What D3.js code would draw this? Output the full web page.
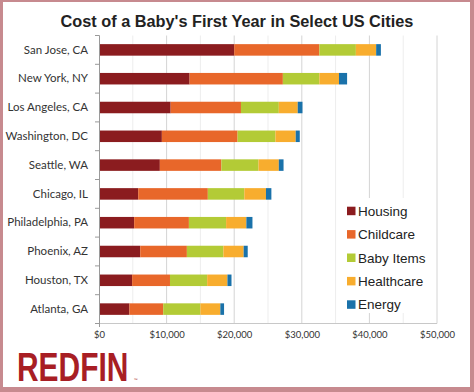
<!DOCTYPE html>
<html>
<head>
<meta charset="utf-8">
<script src="https://cdn.jsdelivr.net/npm/d3@7"></script>
<style>
  body { margin: 0; background: #fff; }
  svg { display: block; }
</style>
</head>
<body>
<svg id="chart" width="474" height="392"></svg>
<script>
const cities = ["San Jose, CA","New York, NY","Los Angeles, CA","Washington, DC","Seattle, WA","Chicago, IL","Philadelphia, PA","Phoenix, AZ","Houston, TX","Atlanta, GA"];
const seriesNames = ["Housing","Childcare","Baby Items","Healthcare","Energy"];
const housing    = [20000, 13400, 10600, 9300, 9000, 5800, 5200, 6100, 4900, 4500];
const childcare  = [12600, 13800, 10400, 11200, 9100, 10300, 8100, 6900, 5600, 5000];
const babyItems  = [5400, 5400, 5600, 5600, 5500, 5400, 5500, 5400, 5500, 5500];
const healthcare = [3000, 2900, 2800, 3000, 3000, 3200, 3000, 3000, 3000, 2950];
const energy     = [700, 1200, 700, 600, 700, 800, 900, 600, 600, 550];
const xTicks = [0, 10000, 20000, 30000, 40000, 50000];
const xMinorTicks = [5000, 15000, 25000, 35000, 45000];
const colors = ["#8b1c1f", "#e8672a", "#b3cb36", "#f8ad2e", "#1a72aa"];

const seriesValues = [housing, childcare, babyItems, healthcare, energy];
const rows = cities.map((c, i) => {
  const r = { city: c };
  seriesNames.forEach((s, j) => r[s] = seriesValues[j][i]);
  return r;
});

const svg = d3.select("#chart");

// frame
svg.append("rect").attr("x", 0).attr("y", 0).attr("width", 474).attr("height", 392).attr("fill", "#c78a8f");
svg.append("rect").attr("x", 3).attr("y", 2).attr("width", 467).attr("height", 385).attr("fill", "#ffffff");

const x = d3.scaleLinear().domain([0, 50000]).range([99, 437]);
const y = d3.scaleBand().domain(cities).range([35.5, 323.5]).paddingInner(0.6).paddingOuter(0.3);

// title
svg.append("text")
  .attr("x", 237).attr("y", 27)
  .attr("text-anchor", "middle")
  .style("font-family", "'Liberation Sans', Arial, sans-serif")
  .style("font-weight", "bold")
  .style("font-size", "16.3px")
  .attr("fill", "#222")
  .text("Cost of a Baby's First Year in Select US Cities");

// gridlines
svg.append("g").selectAll("line").data(xMinorTicks).join("line")
  .attr("x1", d => x(d)).attr("x2", d => x(d))
  .attr("y1", 35.5).attr("y2", 323.5)
  .attr("stroke", "#ededed").attr("stroke-width", 1);
svg.append("g").selectAll("line").data(xTicks.filter(d => d > 0)).join("line")
  .attr("x1", d => x(d)).attr("x2", d => x(d))
  .attr("y1", 35.5).attr("y2", 323.5)
  .attr("stroke", "#d4d4d4").attr("stroke-width", 1);

// bottom axis line
svg.append("line").attr("x1", x(0)).attr("x2", x(50000))
  .attr("y1", 323.5).attr("y2", 323.5).attr("stroke", "#c8c8c8");

// stacked bars
const stack = d3.stack().keys(seriesNames)(rows);
svg.append("g").selectAll("g").data(stack).join("g")
  .attr("fill", (d, i) => colors[i])
  .selectAll("rect").data(d => d).join("rect")
  .attr("x", d => x(d[0]))
  .attr("width", d => x(d[1]) - x(d[0]))
  .attr("y", d => y(d.data.city))
  .attr("height", y.bandwidth());

// left axis
const yAxis = d3.axisLeft(y).tickSize(0).tickPadding(11);
const gy = svg.append("g").attr("transform", `translate(${x(0)},0)`).call(yAxis);
gy.select(".domain").remove();
gy.selectAll("text")
  .style("font-family", "Lato, 'Open Sans', sans-serif")
  .style("font-size", "11.5px")
  .attr("fill", "#333");
svg.append("line").attr("x1", x(0) + 0.5).attr("x2", x(0) + 0.5)
  .attr("y1", 35.5).attr("y2", 327).attr("stroke", "#9a9a9a");
const boundaries = d3.range(cities.length + 1).map(i => y.range()[0] + i * y.step());
svg.append("g").selectAll("line").data(boundaries).join("line")
  .attr("x1", x(0) - 4).attr("x2", x(0) + 0.5)
  .attr("y1", d => d).attr("y2", d => d)
  .attr("stroke", "#9a9a9a");

// bottom axis labels
const xAxis = d3.axisBottom(x).tickValues(xTicks).tickFormat(d3.format("$,")).tickSize(0).tickPadding(8);
const gx = svg.append("g").attr("transform", "translate(0,323.5)").call(xAxis);
gx.select(".domain").remove();
gx.selectAll("text")
  .style("font-family", "Lato, 'Open Sans', sans-serif")
  .style("font-size", "9.5px")
  .attr("fill", "#333");

// legend
const lg = svg.append("g");
lg.append("rect").attr("x", 343).attr("y", 198).attr("width", 92).attr("height", 115).attr("fill", "#fff");
seriesNames.forEach((s, i) => {
  const cy = 210.7 + i * 23.4;
  lg.append("rect").attr("x", 347).attr("y", cy - 4).attr("width", 8.5).attr("height", 8.5).attr("fill", colors[i]);
  lg.append("text").attr("x", 358).attr("y", cy + 5)
    .style("font-family", "'Liberation Sans', Arial, sans-serif")
    .style("font-size", "13.5px")
    .attr("fill", "#222")
    .text(s);
});

// logo
svg.append("text")
  .attr("transform", "translate(17,380.5) scale(0.73,1)")
  .style("font-family", "'Liberation Sans', Arial, sans-serif")
  .style("font-weight", "bold")
  .style("font-size", "41px")
  .attr("fill", "#a81e24")
  .text("REDFIN");
svg.append("text")
  .attr("x", 133.5).attr("y", 381)
  .style("font-family", "'Liberation Sans', Arial, sans-serif")
  .style("font-size", "4px")
  .attr("fill", "#a81e24")
  .text("™");
</script>
</body>
</html>
